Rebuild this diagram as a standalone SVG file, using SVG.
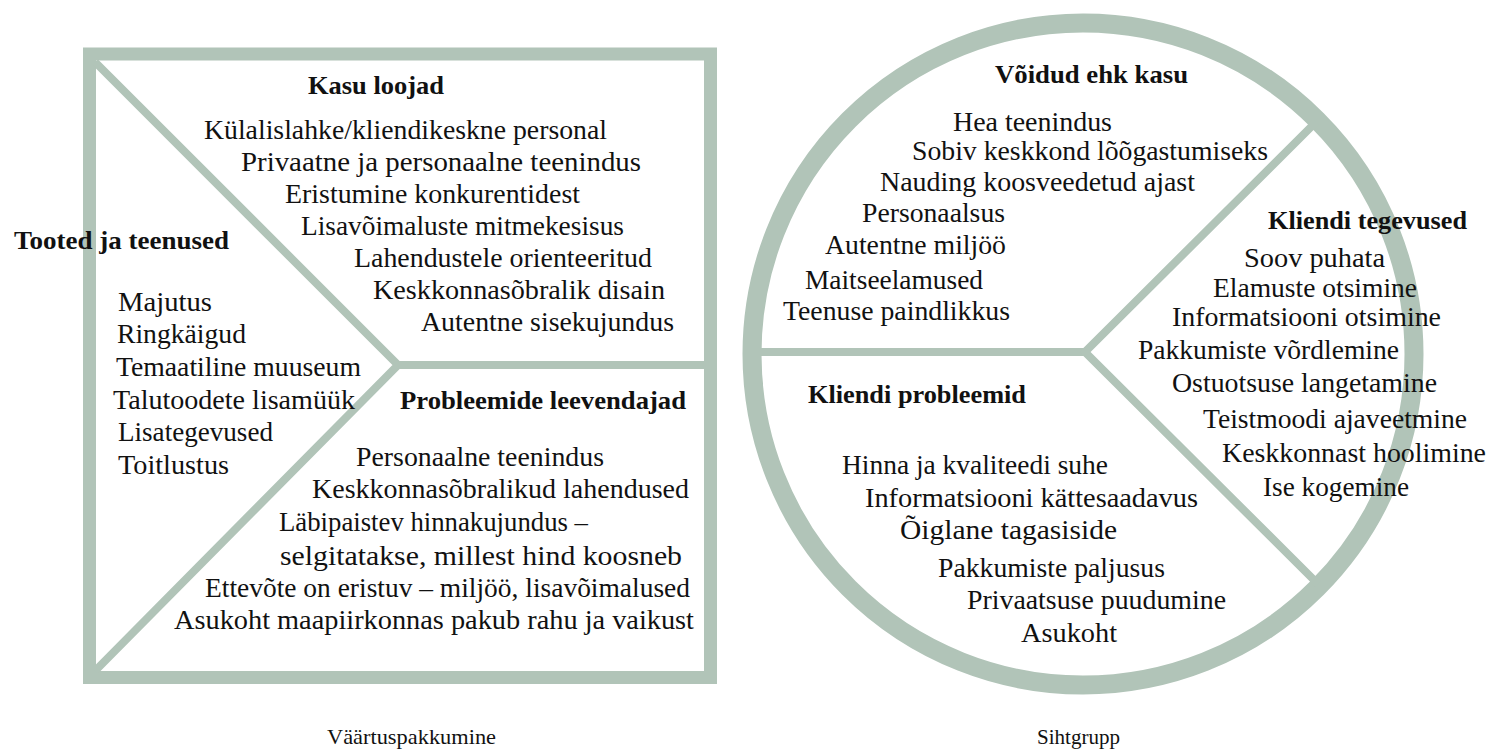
<svg xmlns="http://www.w3.org/2000/svg" width="1489" height="749" viewBox="0 0 1489 749">
<style>
.ln{stroke:#b1c4b8;fill:none}
text{font-family:"Liberation Serif","Times New Roman",serif;fill:#111}
.t{font-size:27.5px}
.h{font-size:26px;font-weight:bold}
.c{font-size:22px}
</style>
<rect width="1489" height="749" fill="#fff"/>
<g id="connectors">
<rect class="ln" x="89.5" y="54" width="621" height="623.5" stroke-width="13"/>
<polyline class="ln" points="95,62 398,365 95,671" stroke-width="8"/>
<line class="ln" x1="398" y1="365" x2="705" y2="365" stroke-width="8"/>
<circle class="ln" cx="1083" cy="354" r="331" stroke-width="19"/>
<line class="ln" x1="755" y1="352" x2="1085" y2="352" stroke-width="8"/>
<polyline class="ln" points="1316,122 1085,352 1318,584" stroke-width="8"/>
</g>
<g id="kasu-loojad">
<text class="h" x="308" y="94" textLength="136" lengthAdjust="spacingAndGlyphs">Kasu loojad</text>
<text class="t" x="204" y="139" textLength="403" lengthAdjust="spacingAndGlyphs">Külalislahke/kliendikeskne personal</text>
<text class="t" x="241" y="171" textLength="400" lengthAdjust="spacingAndGlyphs">Privaatne ja personaalne teenindus</text>
<text class="t" x="285" y="203" textLength="295" lengthAdjust="spacingAndGlyphs">Eristumine konkurentidest</text>
<text class="t" x="301" y="235" textLength="323" lengthAdjust="spacingAndGlyphs">Lisavõimaluste mitmekesisus</text>
<text class="t" x="354" y="267" textLength="298" lengthAdjust="spacingAndGlyphs">Lahendustele orienteeritud</text>
<text class="t" x="373" y="299" textLength="292" lengthAdjust="spacingAndGlyphs">Keskkonnasõbralik disain</text>
<text class="t" x="421" y="331" textLength="253" lengthAdjust="spacingAndGlyphs">Autentne sisekujundus</text>
</g>
<g id="tooted-ja-teenused">
<text class="h" x="14" y="249" textLength="215" lengthAdjust="spacingAndGlyphs">Tooted ja teenused</text>
<text class="t" x="118" y="311" textLength="94" lengthAdjust="spacingAndGlyphs">Majutus</text>
<text class="t" x="117" y="343" textLength="129" lengthAdjust="spacingAndGlyphs">Ringkäigud</text>
<text class="t" x="116" y="376" textLength="245" lengthAdjust="spacingAndGlyphs">Temaatiline muuseum</text>
<text class="t" x="113" y="409" textLength="242" lengthAdjust="spacingAndGlyphs">Talutoodete lisamüük</text>
<text class="t" x="118" y="441" textLength="155" lengthAdjust="spacingAndGlyphs">Lisategevused</text>
<text class="t" x="118" y="474" textLength="111" lengthAdjust="spacingAndGlyphs">Toitlustus</text>
</g>
<g id="probleemide-leevendajad">
<text class="h" x="400" y="409" textLength="286" lengthAdjust="spacingAndGlyphs">Probleemide leevendajad</text>
<text class="t" x="356" y="466" textLength="248" lengthAdjust="spacingAndGlyphs">Personaalne teenindus</text>
<text class="t" x="312" y="498" textLength="377" lengthAdjust="spacingAndGlyphs">Keskkonnasõbralikud lahendused</text>
<text class="t" x="279" y="531" textLength="309" lengthAdjust="spacingAndGlyphs">Läbipaistev hinnakujundus –</text>
<text class="t" x="280" y="565" textLength="402" lengthAdjust="spacingAndGlyphs">selgitatakse, millest hind koosneb</text>
<text class="t" x="205" y="597" textLength="485" lengthAdjust="spacingAndGlyphs">Ettevõte on eristuv – miljöö, lisavõimalused</text>
<text class="t" x="174" y="629" textLength="520" lengthAdjust="spacingAndGlyphs">Asukoht maapiirkonnas pakub rahu ja vaikust</text>
</g>
<g id="voidud">
<text class="h" x="995" y="83" textLength="193" lengthAdjust="spacingAndGlyphs">Võidud ehk kasu</text>
<text class="t" x="953" y="131" textLength="159" lengthAdjust="spacingAndGlyphs">Hea teenindus</text>
<text class="t" x="912" y="160" textLength="356" lengthAdjust="spacingAndGlyphs">Sobiv keskkond lõõgastumiseks</text>
<text class="t" x="880" y="191" textLength="315" lengthAdjust="spacingAndGlyphs">Nauding koosveedetud ajast</text>
<text class="t" x="862" y="222" textLength="143" lengthAdjust="spacingAndGlyphs">Personaalsus</text>
<text class="t" x="825" y="254" textLength="181" lengthAdjust="spacingAndGlyphs">Autentne miljöö</text>
<text class="t" x="805" y="289" textLength="178" lengthAdjust="spacingAndGlyphs">Maitseelamused</text>
<text class="t" x="783" y="320" textLength="227" lengthAdjust="spacingAndGlyphs">Teenuse paindlikkus</text>
</g>
<g id="kliendi-tegevused">
<text class="h" x="1268" y="229" textLength="199" lengthAdjust="spacingAndGlyphs">Kliendi tegevused</text>
<text class="t" x="1244" y="267" textLength="141" lengthAdjust="spacingAndGlyphs">Soov puhata</text>
<text class="t" x="1213" y="297" textLength="204" lengthAdjust="spacingAndGlyphs">Elamuste otsimine</text>
<text class="t" x="1172" y="326" textLength="269" lengthAdjust="spacingAndGlyphs">Informatsiooni otsimine</text>
<text class="t" x="1138" y="359" textLength="261" lengthAdjust="spacingAndGlyphs">Pakkumiste võrdlemine</text>
<text class="t" x="1172" y="392" textLength="265" lengthAdjust="spacingAndGlyphs">Ostuotsuse langetamine</text>
<text class="t" x="1203" y="428" textLength="264" lengthAdjust="spacingAndGlyphs">Teistmoodi ajaveetmine</text>
<text class="t" x="1222" y="462" textLength="264" lengthAdjust="spacingAndGlyphs">Keskkonnast hoolimine</text>
<text class="t" x="1263" y="496" textLength="146" lengthAdjust="spacingAndGlyphs">Ise kogemine</text>
</g>
<g id="kliendi-probleemid">
<text class="h" x="808" y="403" textLength="218" lengthAdjust="spacingAndGlyphs">Kliendi probleemid</text>
<text class="t" x="842" y="474" textLength="266" lengthAdjust="spacingAndGlyphs">Hinna ja kvaliteedi suhe</text>
<text class="t" x="865" y="507" textLength="333" lengthAdjust="spacingAndGlyphs">Informatsiooni kättesaadavus</text>
<text class="t" x="900" y="539" textLength="217" lengthAdjust="spacingAndGlyphs">Õiglane tagasiside</text>
<text class="t" x="938" y="577" textLength="227" lengthAdjust="spacingAndGlyphs">Pakkumiste paljusus</text>
<text class="t" x="967" y="609" textLength="259" lengthAdjust="spacingAndGlyphs">Privaatsuse puudumine</text>
<text class="t" x="1021" y="642" textLength="96" lengthAdjust="spacingAndGlyphs">Asukoht</text>
</g>
<g id="captions">
<text class="c" x="327" y="744" textLength="169" lengthAdjust="spacingAndGlyphs">Väärtuspakkumine</text>
<text class="c" x="1037" y="744" textLength="83" lengthAdjust="spacingAndGlyphs">Sihtgrupp</text>
</g>
</svg>
